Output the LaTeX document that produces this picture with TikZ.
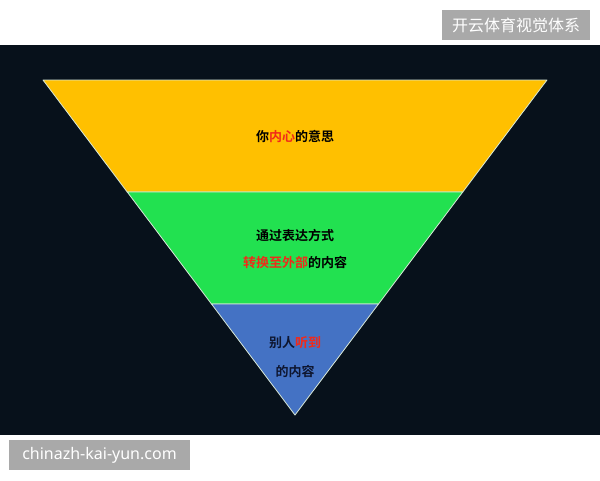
\documentclass[tikz,border=0pt]{standalone}
\usepackage{fontspec}
\usetikzlibrary{calc}
\newfontfamily\cjk{Noto Sans CJK SC}
\newfontfamily\cjkb{Noto Sans CJK SC Bold}
\setsansfont{Noto Sans}
\definecolor{bgdark}{HTML}{07111B}
\definecolor{lyel}{HTML}{FFC000}
\definecolor{lgrn}{HTML}{22E150}
\definecolor{lblu}{HTML}{4472C4}
\definecolor{redt}{HTML}{F02A1A}
\definecolor{navyt}{HTML}{0E1630}
\definecolor{wmgray}{HTML}{A9A9A9}
\definecolor{edgec}{HTML}{D8E8D8}
\tikzset{
  layer/.style={draw=edgec, line width=0.8pt, line join=round},
  lbl/.style={font=\cjkb\fontsize{13}{15}\selectfont, text=black, inner sep=0pt},
  wm/.style={fill=wmgray, text=white, inner sep=0pt, minimum height=30pt},
}
\begin{document}
\begin{tikzpicture}[x=1pt,y=-1pt]
\useasboundingbox (0,0) rectangle (600,480);
\fill[white] (0,0) rectangle (600,480);
\fill[bgdark] (0,45) rectangle (600,435);
% corner points
\coordinate (tl) at (43,80);
\coordinate (tr) at (547,80);
\coordinate (ap) at (295,415);
\coordinate (yl) at ($(tl)!0.3343!(ap)$);
\coordinate (yr) at ($(tr)!0.3343!(ap)$);
\coordinate (gl) at ($(tl)!0.6687!(ap)$);
\coordinate (gr) at ($(tr)!0.6687!(ap)$);
\path[layer, fill=lyel] (tl) -- (tr) -- (yr) -- (yl) -- cycle;
\path[layer, fill=lgrn] (yl) -- (yr) -- (gr) -- (gl) -- cycle;
\path[layer, fill=lblu] (gl) -- (gr) -- (ap) -- cycle;
% labels
\node[lbl] (t1) at (295,136) {你\textcolor{redt}{内心}的意思};
\node[lbl] (t2) at (295,235) {通过表达方式};
\node[lbl] (t3) at (295,263) {\textcolor{redt}{转换至外部}的内容};
\node[lbl, text=navyt] (t4) at (295,343) {别人\textcolor{redt}{听到}};
\node[lbl, text=navyt] (t5) at (295,371) {的内容};
% watermarks
\node[wm, minimum width=148pt, font=\cjk\fontsize{16}{18}\selectfont] (w1) at (516,25) {开云体育视觉体系};
\node[wm, minimum width=181pt, font=\sffamily\fontsize{16}{18}\selectfont] (w2) at (99.5,455) {chinazh-kai-yun.com};
\end{tikzpicture}
\end{document}
